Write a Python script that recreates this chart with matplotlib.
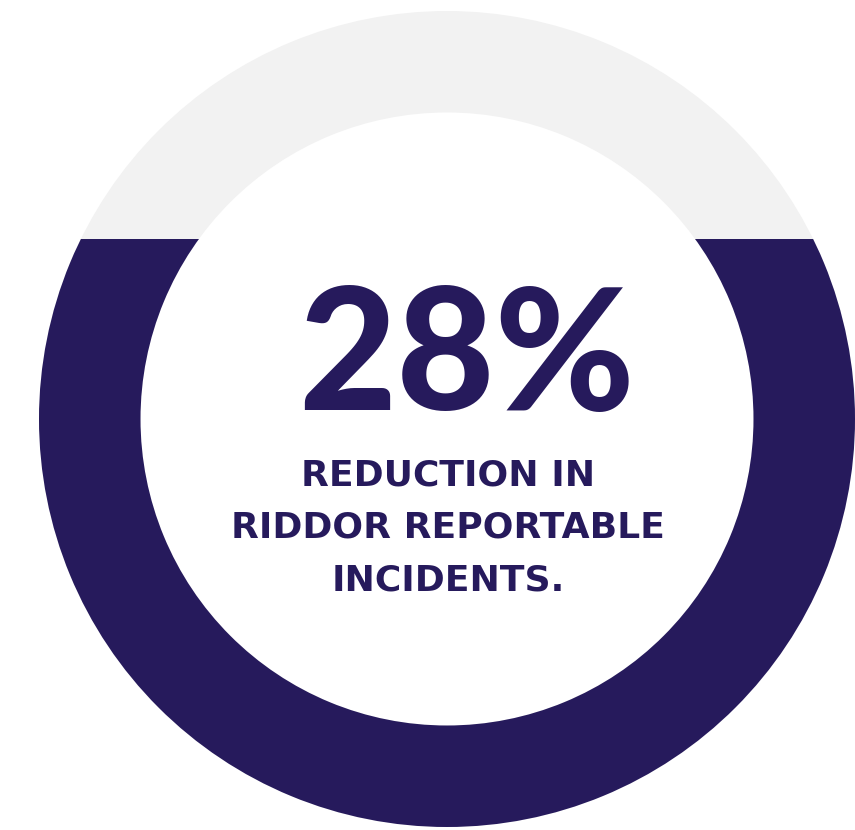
import matplotlib
matplotlib.use("Agg")
import matplotlib.pyplot as plt
from matplotlib.patches import Wedge, Rectangle

# Headline figure and caption
value_pct = 28
headline = f"{value_pct}%"
caption_lines = ["REDUCTION IN", "RIDDOR REPORTABLE", "INCIDENTS."]

NAVY = "#261a5c"
LIGHT = "#f2f2f2"

W, H = 855, 830
cx, cy = 447, 419          # ring centre (pixel coords, y down)
r_out, r_in = 408, 306.5

fig = plt.figure(figsize=(W / 100, H / 100), dpi=100)
ax = fig.add_axes([0, 0, 1, 1])
ax.set_xlim(0, W)
ax.set_ylim(H, 0)
ax.axis("off")

# background ring
ax.add_patch(Wedge((cx, cy), r_out, 0, 360, width=r_out - r_in,
                   facecolor=LIGHT, edgecolor="none"))

# navy "fill level": ring filled from the bottom up to (100 - value)% of its height
fill = 1 - value_pct / 100
cut_y = cy + r_out - fill * 2 * r_out
level = ax.add_patch(Wedge((cx, cy), r_out, 0, 360, width=r_out - r_in,
                           facecolor=NAVY, edgecolor="none"))
clip = Rectangle((0, cut_y), W, H - cut_y, transform=ax.transData)
level.set_clip_path(clip)

ax.text(cx + 19, 410, headline, ha="center", va="baseline", color=NAVY,
        fontsize=122, fontweight="black", family=["Lato", "DejaVu Sans"])

for i, line in enumerate(caption_lines):
    ax.text(cx + 1, 485 + i * 52.5, line, ha="center", va="baseline", color=NAVY,
            fontsize=26, fontweight="bold", family=["DejaVu Sans"])

fig.savefig("out.png", dpi=100)
